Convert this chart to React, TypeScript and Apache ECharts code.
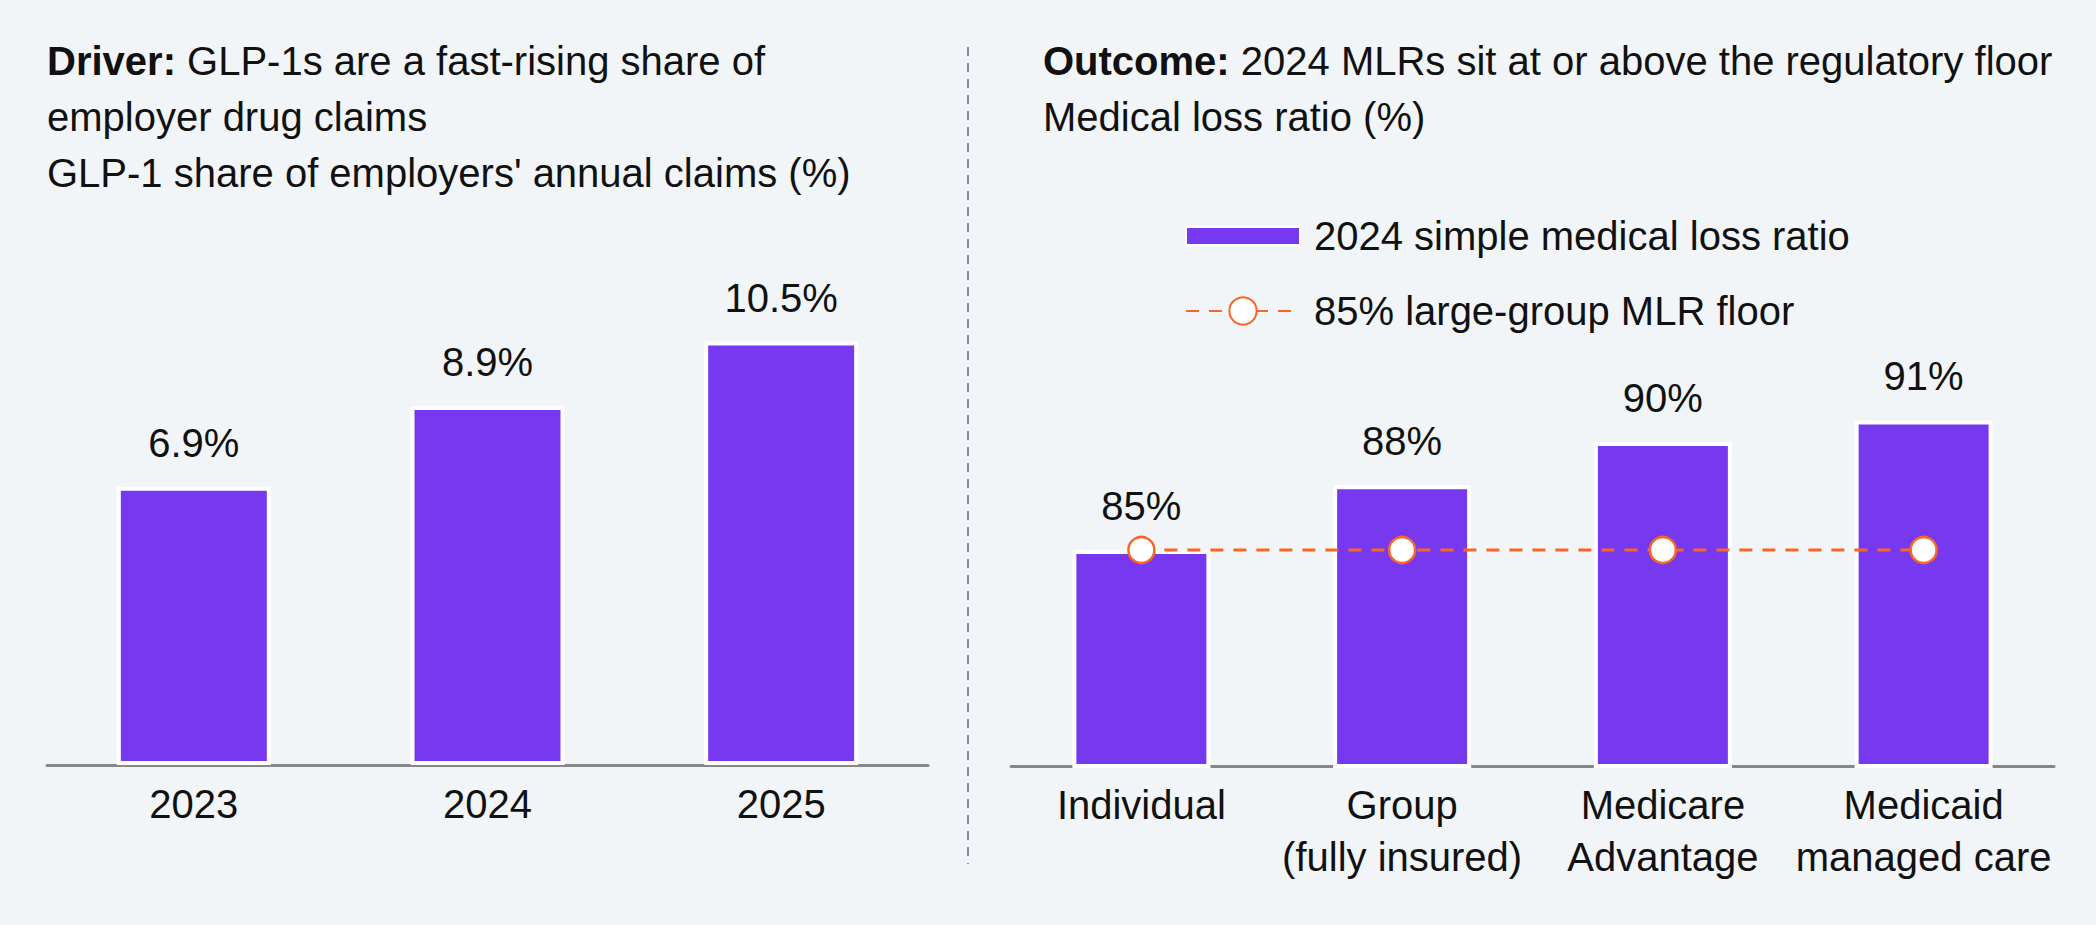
import React, { useEffect, useRef } from 'react';
import * as echarts from 'echarts';

const years = ['2023', '2024', '2025'];
const glpShare = [6.9, 8.9, 10.5];
const segments = ['Individual', 'Group\n(fully insured)', 'Medicare\nAdvantage', 'Medicaid\nmanaged care'];
const mlr2024 = [85, 88, 90, 91];
const mlrFloor = [85, 85, 85, 85];
const leftRange = [0, 12];
const rightRange = [75, 100];
const barName = '2024 simple medical loss ratio';
const floorName = '85% large-group MLR floor';

const FONT = '"Liberation Sans", Arial, Helvetica, sans-serif';
const PURPLE = '#7739F0';
const ORANGE = '#FA6424';
const INK = '#111111';
const BG = '#F2F5F8';

export default function App() {
  const ref = useRef<HTMLDivElement>(null);
  useEffect(() => {
    document.body.style.margin = '0';
    document.body.style.background = BG;
    const chart = echarts.init(ref.current as HTMLDivElement, null, { renderer: 'svg' });
    const titleStyle = {
      fontFamily: FONT,
      fontSize: 40,
      lineHeight: 56,
      color: INK,
      fontWeight: 'normal' as const,
      rich: {
        b: { fontFamily: FONT, fontSize: 40, lineHeight: 56, color: INK, fontWeight: 'bold' as const },
      },
    };
    const axisLabel = {
      fontFamily: FONT,
      fontSize: 40,
      lineHeight: 52,
      color: INK,
      margin: 13,
      interval: 0,
    };
    const axisLine = { lineStyle: { color: '#878787', width: 3 } };
    const valueLabel = {
      show: true,
      position: 'top' as const,
      distance: 24,
      fontFamily: FONT,
      fontSize: 40,
      color: INK,
    };
    chart.setOption({
      animation: false,
      backgroundColor: BG,
      title: [
        {
          left: 47,
          top: 33,
          padding: 0,
          text: "{b|Driver:} GLP-1s are a fast-rising share of\nemployer drug claims\nGLP-1 share of employers' annual claims (%)",
          textStyle: titleStyle,
        },
        {
          left: 1043,
          top: 33,
          padding: 0,
          text: '{b|Outcome:} 2024 MLRs sit at or above the regulatory floor\nMedical loss ratio (%)',
          textStyle: titleStyle,
        },
      ],
      legend: {
        orient: 'vertical',
        left: 1180,
        top: 211,
        itemWidth: 114,
        itemHeight: 34,
        itemGap: 35,
        data: [{ name: barName, icon: 'path://M0,0h114v18h-114z' }, { name: floorName }],
        textStyle: { fontFamily: FONT, fontSize: 40, color: INK, padding: [0, 0, 0, 9] },
      },
      grid: [
        { left: 47, right: 1168, top: 281, bottom: 160 },
        { left: 1011, right: 42, top: 226, bottom: 159 },
      ],
      xAxis: [
        { gridIndex: 0, type: 'category', data: years, axisLine, axisTick: { show: false }, axisLabel },
        { gridIndex: 1, type: 'category', data: segments, axisLine, axisTick: { show: false }, axisLabel },
      ],
      yAxis: [
        { gridIndex: 0, type: 'value', min: leftRange[0], max: leftRange[1], show: false },
        { gridIndex: 1, type: 'value', min: rightRange[0], max: rightRange[1], show: false },
      ],
      series: [
        {
          name: 'GLP-1 share',
          type: 'bar',
          xAxisIndex: 0,
          yAxisIndex: 0,
          data: glpShare,
          barWidth: 154,
          itemStyle: { color: PURPLE, borderColor: '#ffffff', borderWidth: 4 },
          label: { ...valueLabel, formatter: (p: any) => `${Number(p.value).toFixed(1)}%` },
        },
        {
          name: barName,
          type: 'bar',
          xAxisIndex: 1,
          yAxisIndex: 1,
          data: mlr2024,
          barWidth: 138,
          itemStyle: { color: PURPLE, borderColor: '#ffffff', borderWidth: 4 },
          label: { ...valueLabel, formatter: (p: any) => `${p.value}%` },
        },
        {
          name: floorName,
          type: 'line',
          xAxisIndex: 1,
          yAxisIndex: 1,
          data: mlrFloor,
          z: 5,
          symbol: 'circle',
          symbolSize: 26,
          lineStyle: { color: ORANGE, width: 3, type: [13, 10] },
          itemStyle: { color: '#ffffff', borderColor: ORANGE, borderWidth: 2.5 },
        },
      ],
      graphic: [
        {
          type: 'line',
          shape: { x1: 968, y1: 47, x2: 968, y2: 864 },
          style: { stroke: '#7D8FA9', lineWidth: 2, lineDash: [9, 7] },
        },
      ],
    });
    return () => chart.dispose();
  }, []);
  return <div ref={ref} style={{ position: 'fixed', left: 0, top: 0, width: 2096, height: 925 }} />;
}
